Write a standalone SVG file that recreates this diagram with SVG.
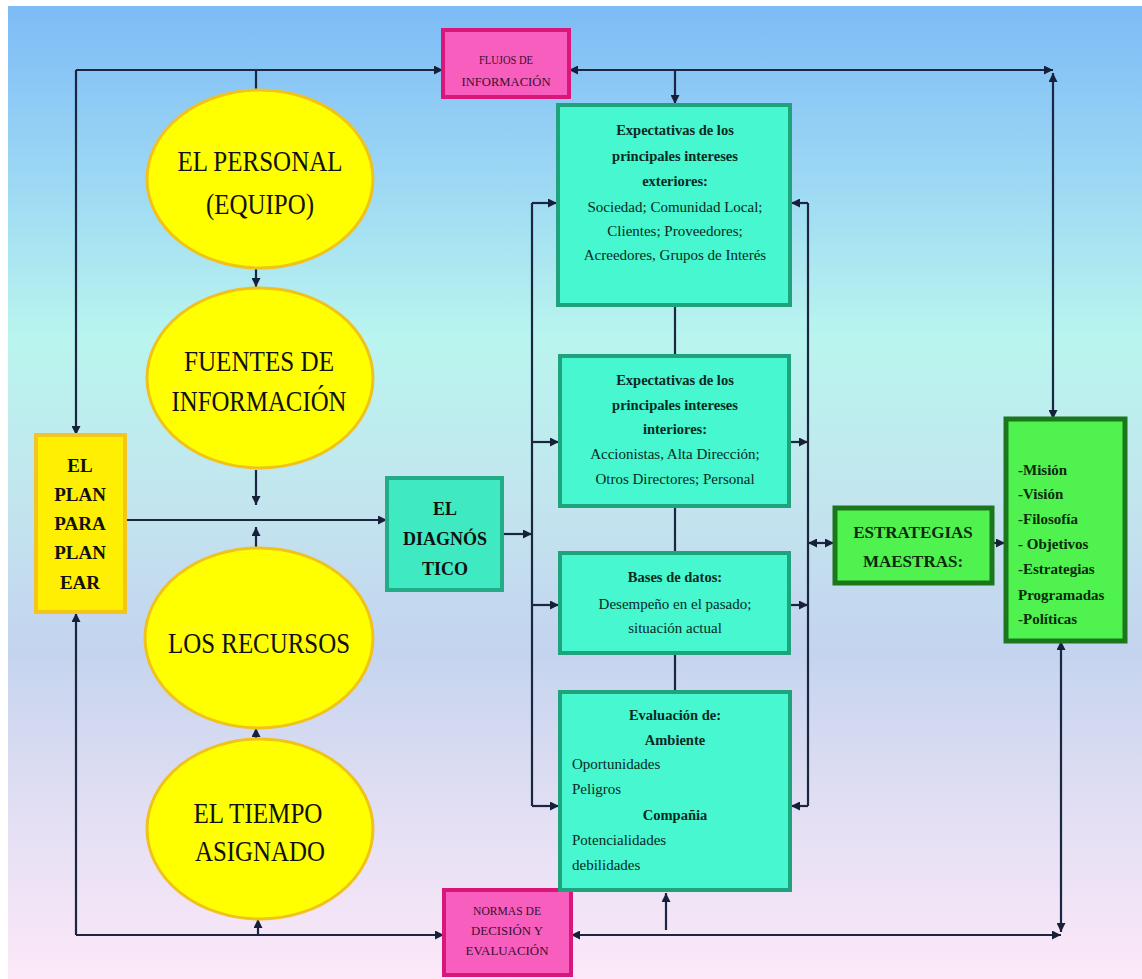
<svg xmlns="http://www.w3.org/2000/svg" width="1142" height="979" viewBox="0 0 1142 979">
<defs>
<linearGradient id="bg" x1="0" y1="0" x2="0" y2="1">
<stop offset="0" stop-color="#7dbbf6"/>
<stop offset="0.18" stop-color="#9dd8f4"/>
<stop offset="0.34" stop-color="#b9f5ee"/>
<stop offset="0.5" stop-color="#c2e6ee"/>
<stop offset="0.66" stop-color="#c4d4ee"/>
<stop offset="0.85" stop-color="#e6e0f4"/>
<stop offset="1" stop-color="#fce8f8"/>
</linearGradient>
<marker id="ah" viewBox="0 0 10 10" refX="10" refY="5" markerWidth="10" markerHeight="9" markerUnits="userSpaceOnUse" orient="auto-start-reverse">
<path d="M0,0 L10,5 L0,10 z" fill="#16203a"/>
</marker>
</defs>
<style>
.ln{fill:none;stroke:#1b2640;stroke-width:2.2}
.ell{fill:#ffff00;stroke:#f0c21c;stroke-width:3}
.yel{fill:#ffef00;stroke:#f4c51a;stroke-width:4}
.teal{fill:#46f7cf;stroke:#1fa37c;stroke-width:4}
.pink{fill:#f75ebd;stroke:#d9167a;stroke-width:4}
.grn{fill:#4ff24f;stroke:#1c761c;stroke-width:5}
text{font-family:"Liberation Serif","Times New Roman",serif;fill:#111}
.et{font-size:29px;text-anchor:middle}
.bt{font-size:19px;font-weight:bold;text-anchor:middle}
.tb{font-size:14.5px;font-weight:bold;text-anchor:middle;fill:#0b2a1f}
.tr{font-size:15px;text-anchor:middle;fill:#0b2a1f}
.tl{font-size:15px;fill:#0b2a1f}
.pk{font-size:13px;text-anchor:middle;fill:#3a1030}
.gl{font-size:15px;font-weight:bold;fill:#0c2a0c}
</style>
<rect x="0" y="0" width="1142" height="979" fill="#ffffff"/>
<rect x="8" y="6" width="1134" height="973" fill="url(#bg)"/>

<g id="connectors">
<path class="ln" d="M76 70 H443" marker-end="url(#ah)"/>
<path class="ln" d="M76 70 V435" marker-end="url(#ah)"/>
<path class="ln" d="M256 70 V90"/>
<path class="ln" d="M569 70 H1053" marker-start="url(#ah)" marker-end="url(#ah)"/>
<path class="ln" d="M1053 73 V419" marker-start="url(#ah)" marker-end="url(#ah)"/>
<path class="ln" d="M675 70 V104" marker-end="url(#ah)"/>
<path class="ln" d="M256 253 V287" marker-end="url(#ah)"/>
<path class="ln" d="M256 470 V505" marker-end="url(#ah)"/>
<path class="ln" d="M256 547 V527" marker-end="url(#ah)"/>
<path class="ln" d="M125 520 H387" marker-end="url(#ah)"/>
<path class="ln" d="M256 740 V728" marker-end="url(#ah)"/>
<path class="ln" d="M258 935 V919" marker-end="url(#ah)"/>
<path class="ln" d="M76 935 H444" marker-end="url(#ah)"/>
<path class="ln" d="M76 935 V613" marker-end="url(#ah)"/>
<path class="ln" d="M571 935 H1061" marker-start="url(#ah)" marker-end="url(#ah)"/>
<path class="ln" d="M1061 641 V932" marker-start="url(#ah)" marker-end="url(#ah)"/>
<path class="ln" d="M666 930 V893" marker-end="url(#ah)"/>
<path class="ln" d="M502 534 H532" marker-end="url(#ah)"/>
<path class="ln" d="M532 203 V806"/>
<path class="ln" d="M532 203 H557" marker-end="url(#ah)"/>
<path class="ln" d="M532 442 H559" marker-end="url(#ah)"/>
<path class="ln" d="M532 605 H559" marker-end="url(#ah)"/>
<path class="ln" d="M532 806 H559" marker-end="url(#ah)"/>
<path class="ln" d="M808 203 V806"/>
<path class="ln" d="M808 203 H791" marker-end="url(#ah)"/>
<path class="ln" d="M790 442 H808" marker-end="url(#ah)"/>
<path class="ln" d="M790 605 H808" marker-end="url(#ah)"/>
<path class="ln" d="M808 806 H791" marker-end="url(#ah)"/>
<path class="ln" d="M675 305 V356"/>
<path class="ln" d="M675 506 V553"/>
<path class="ln" d="M675 653 V692"/>
<path class="ln" d="M808 543 H834" marker-start="url(#ah)" marker-end="url(#ah)"/>
<path class="ln" d="M984 543 H1005" marker-start="url(#ah)" marker-end="url(#ah)"/>
</g>

<g id="flujos">
<rect class="pink" x="443" y="30" width="126" height="67"/>
<text class="pk" x="506" y="64" textLength="54" lengthAdjust="spacingAndGlyphs">FLUJOS DE</text>
<text class="pk" x="506" y="86" textLength="89" lengthAdjust="spacingAndGlyphs">INFORMACIÓN</text>
</g>

<g id="normas">
<rect class="pink" x="444" y="890" width="127" height="85"/>
<text class="pk" x="507" y="915" textLength="68" lengthAdjust="spacingAndGlyphs">NORMAS DE</text>
<text class="pk" x="507" y="935" textLength="72" lengthAdjust="spacingAndGlyphs">DECISIÓN Y</text>
<text class="pk" x="507" y="955" textLength="83" lengthAdjust="spacingAndGlyphs">EVALUACIÓN</text>
</g>

<g id="personal">
<ellipse class="ell" cx="260" cy="179" rx="113" ry="89"/>
<text class="et" x="260" y="171" textLength="165" lengthAdjust="spacingAndGlyphs">EL PERSONAL</text>
<text class="et" x="260" y="214" textLength="108" lengthAdjust="spacingAndGlyphs">(EQUIPO)</text>
</g>

<g id="fuentes">
<ellipse class="ell" cx="260" cy="378" rx="113" ry="90"/>
<text class="et" x="259" y="371" textLength="150" lengthAdjust="spacingAndGlyphs">FUENTES DE</text>
<text class="et" x="259" y="411" textLength="175" lengthAdjust="spacingAndGlyphs">INFORMACIÓN</text>
</g>

<g id="recursos">
<ellipse class="ell" cx="259" cy="638" rx="114" ry="90"/>
<text class="et" x="259" y="653" textLength="182" lengthAdjust="spacingAndGlyphs">LOS RECURSOS</text>
</g>

<g id="tiempo">
<ellipse class="ell" cx="260" cy="829" rx="113" ry="90"/>
<text class="et" x="258" y="823" textLength="129" lengthAdjust="spacingAndGlyphs">EL TIEMPO</text>
<text class="et" x="260" y="861" textLength="130" lengthAdjust="spacingAndGlyphs">ASIGNADO</text>
</g>

<g id="plan">
<rect class="yel" x="36" y="435" width="89" height="177"/>
<text class="bt" x="80" y="472">EL</text>
<text class="bt" x="80" y="501">PLAN</text>
<text class="bt" x="80" y="530">PARA</text>
<text class="bt" x="80" y="559">PLAN</text>
<text class="bt" x="80" y="589">EAR</text>
</g>

<g id="diagnostico">
<rect class="teal" x="387" y="478" width="115" height="112" style="fill:#3fe9c2;stroke:#22ad88"/>
<text class="bt" x="445" y="515" style="font-size:18px">EL</text>
<text class="bt" x="445" y="545" style="font-size:18px">DIAGNÓS</text>
<text class="bt" x="445" y="575" style="font-size:18px">TICO</text>
</g>

<g id="exteriores">
<rect class="teal" x="558" y="105" width="232" height="200"/>
<text class="tb" x="675" y="135">Expectativas de los</text>
<text class="tb" x="675" y="161">principales intereses</text>
<text class="tb" x="675" y="186">exteriores:</text>
<text class="tr" x="675" y="212">Sociedad; Comunidad Local;</text>
<text class="tr" x="675" y="236">Clientes; Proveedores;</text>
<text class="tr" x="675" y="260">Acreedores, Grupos de Interés</text>
</g>

<g id="interiores">
<rect class="teal" x="560" y="356" width="229" height="150"/>
<text class="tb" x="675" y="385">Expectativas de los</text>
<text class="tb" x="675" y="410">principales intereses</text>
<text class="tb" x="675" y="434">interiores:</text>
<text class="tr" x="675" y="459">Accionistas, Alta Dirección;</text>
<text class="tr" x="675" y="484">Otros Directores; Personal</text>
</g>

<g id="bases">
<rect class="teal" x="560" y="553" width="229" height="100"/>
<text class="tb" x="675" y="582">Bases de datos:</text>
<text class="tr" x="675" y="609">Desempeño en el pasado;</text>
<text class="tr" x="675" y="633">situación actual</text>
</g>

<g id="evaluacion">
<rect class="teal" x="560" y="692" width="230" height="198"/>
<text class="tb" x="675" y="720">Evaluación de:</text>
<text class="tb" x="675" y="745">Ambiente</text>
<text class="tl" x="572" y="769">Oportunidades</text>
<text class="tl" x="572" y="794">Peligros</text>
<text class="tb" x="675" y="820">Compañia</text>
<text class="tl" x="572" y="845">Potencialidades</text>
<text class="tl" x="572" y="870">debilidades</text>
</g>

<g id="estrategias">
<rect class="grn" x="835" y="508" width="157" height="75"/>
<text class="bt" x="913" y="538" style="font-size:17px;fill:#0c2a0c">ESTRATEGIAS</text>
<text class="bt" x="913" y="567" style="font-size:17px;fill:#0c2a0c">MAESTRAS:</text>
</g>

<g id="mision">
<rect class="grn" x="1006" y="419" width="119" height="222"/>
<text class="gl" x="1018" y="475">-Misión</text>
<text class="gl" x="1018" y="499">-Visión</text>
<text class="gl" x="1018" y="524">-Filosofía</text>
<text class="gl" x="1018" y="549">- Objetivos</text>
<text class="gl" x="1018" y="574">-Estrategias</text>
<text class="gl" x="1018" y="600">Programadas</text>
<text class="gl" x="1018" y="624">-Políticas</text>
</g>
</svg>
